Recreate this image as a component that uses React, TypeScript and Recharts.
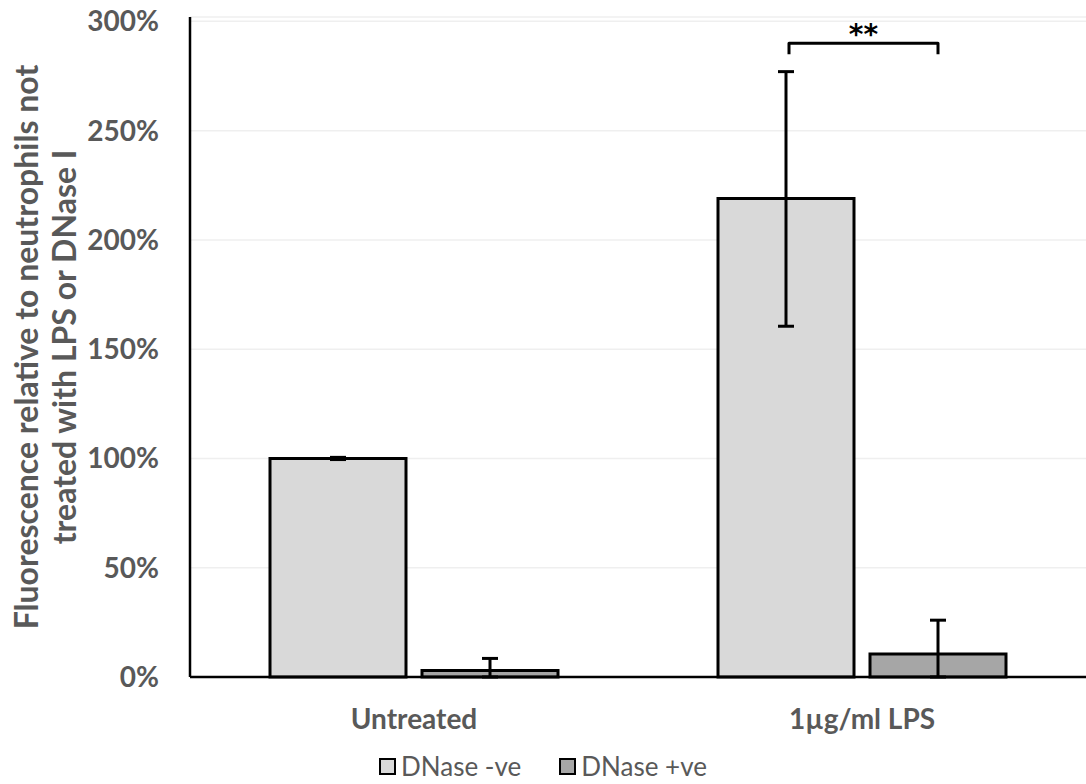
import React from "react";
import {
  BarChart, Bar, XAxis, YAxis, CartesianGrid, ErrorBar, Legend,
} from "recharts";

const categories = ["Untreated", "1µg/ml LPS"];
const dnaseNeg = [100, 219];
const dnasePos = [3, 10.5];
const dnaseNegErr: [number, number][] = [[0.5, 0.5], [58.5, 58]];
const dnasePosErr: [number, number][] = [[3, 5.5], [10.5, 15.5]];
const yTicks = [0, 50, 100, 150, 200, 250, 300];
const seriesNames = ["DNase -ve", "DNase +ve"];
const seriesColors = ["#d9d9d9", "#a6a6a6"];
const bracketLevels = [285, 290];
const sigLabel = "**";
const sigIndex = 1;

const data = categories.map((c, i) => ({
  name: c,
  neg: dnaseNeg[i],
  pos: dnasePos[i],
  negErr: dnaseNegErr[i],
  posErr: dnasePosErr[i],
}));

const FONT = "Lato, 'Open Sans', sans-serif";
const GREY = "#595959";
const BAR_GAP = 16;

const YLabel = (props: any) => {
  const vb = props.viewBox || {};
  const cy = vb.y + vb.height / 2;
  const x1 = 38;
  const x2 = 76;
  const style = { fontFamily: FONT, fontWeight: 700, fontSize: 32, fill: GREY } as any;
  return (
    <g>
      <text x={x1} y={cy} transform={`rotate(-90, ${x1}, ${cy})`} textAnchor="middle" style={style}>
        Fluorescence relative to neutrophils not
      </text>
      <text x={x2} y={cy} transform={`rotate(-90, ${x2}, ${cy})`} textAnchor="middle" style={style}>
        treated with LPS or DNase I
      </text>
    </g>
  );
};

const Bracket = (props: any) => {
  const { x, y, width, height, value, index } = props;
  if (index !== sigIndex || !value) return null;
  const base = y + height;
  const per = height / value;
  const yTop = base - bracketLevels[1] * per;
  const yLeg = base - bracketLevels[0] * per;
  const x1 = x + width / 2 + 3;
  const x2 = x + width * 1.5 + BAR_GAP;
  return (
    <g>
      <path
        d={`M${x1},${yLeg} L${x1},${yTop} L${x2},${yTop} L${x2},${yLeg}`}
        fill="none"
        stroke="#000"
        strokeWidth={3}
        strokeLinejoin="round"
      />
      <text x={(x1 + x2) / 2} y={yTop + 1} textAnchor="middle" style={{ fontFamily: "'DejaVu Sans', sans-serif", fontWeight: 700, fontSize: 28, fill: "#000" }}>
        {sigLabel}
      </text>
    </g>
  );
};

const LegendContent = () => (
  <div style={{ display: "flex", justifyContent: "center", alignItems: "center", gap: 38, fontFamily: FONT, fontSize: 26, color: GREY, marginTop: 9 }}>
    {seriesNames.map((n, i) => (
      <div key={n} style={{ display: "flex", alignItems: "center", gap: 5 }}>
        <div style={{ width: 13, height: 13, background: seriesColors[i], border: "2px solid #000" }} />
        <span>{n}</span>
      </div>
    ))}
  </div>
);

export default function App() {
  return (
    <div style={{ position: "absolute", left: 0, top: 0, background: "#fff" }}>
      <BarChart
        width={1086}
        height={784}
        data={data}
        margin={{ top: 17, right: 0, bottom: 0, left: 0 }}
        barSize={136}
        barGap={BAR_GAP}
      >
        <CartesianGrid vertical={false} stroke="#efefef" strokeWidth={1.5} />
        <XAxis
          dataKey="name"
          axisLine={{ stroke: "#000", strokeWidth: 2.5 }}
          tickLine={false}
          tickSize={0}
          tickMargin={32}
          height={64}
          tick={{ fontFamily: FONT, fontWeight: 700, fontSize: 28, fill: GREY }}
        />
        <YAxis
          width={190}
          domain={[0, 302]}
          ticks={yTicks}
          interval={0}
          tickFormatter={(v: number) => `${v}%`}
          axisLine={{ stroke: "#000", strokeWidth: 2.5 }}
          tickLine={false}
          tickSize={0}
          tickMargin={31}
          tick={{ fontFamily: FONT, fontWeight: 700, fontSize: 28, fill: GREY }}
          label={<YLabel />}
        />
        <Legend verticalAlign="bottom" height={43} content={<LegendContent />} />
        <Bar dataKey="neg" name={seriesNames[0]} fill={seriesColors[0]} stroke="#000" strokeWidth={3} isAnimationActive={false} label={<Bracket />}>
          <ErrorBar dataKey="negErr" width={8} strokeWidth={3} stroke="#000" />
        </Bar>
        <Bar dataKey="pos" name={seriesNames[1]} fill={seriesColors[1]} stroke="#000" strokeWidth={3} isAnimationActive={false}>
          <ErrorBar dataKey="posErr" width={8} strokeWidth={3} stroke="#000" />
        </Bar>
      </BarChart>
    </div>
  );
}
